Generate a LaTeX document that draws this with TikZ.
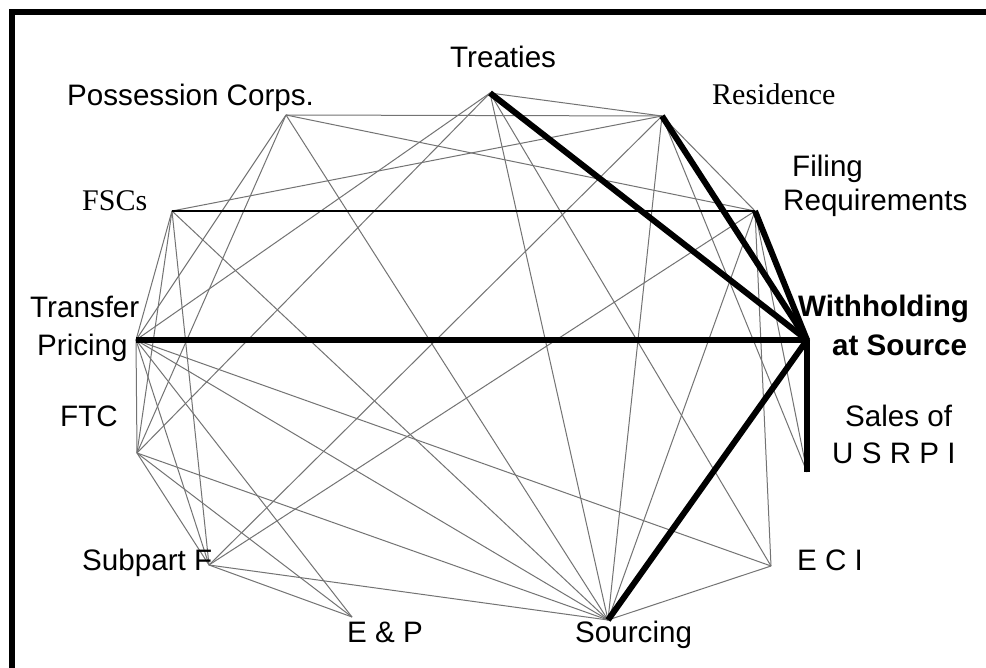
\documentclass[tikz,border=0pt]{standalone}
\usepackage{fontspec}
\setmainfont{Liberation Sans}
\newfontfamily\timesf{Liberation Serif}
\tikzset{
  grayedge/.style={draw=black!55, line width=1pt},
  blackedge/.style={draw=black, line width=1.6pt},
  boldedge/.style={draw=black, line width=6pt},
  lbl/.style={anchor=base west, inner sep=0pt, text=black, font=\fontsize{29.6}{34}\selectfont},
  lblserif/.style={lbl, font=\fontsize{30}{34}\selectfont\timesf},
  lblbold/.style={lbl, font=\fontsize{29.6}{34}\selectfont\bfseries},
}
\begin{document}
\begin{tikzpicture}[x=1pt,y=-1pt]
\useasboundingbox (0,0) rectangle (986,668);
\fill[white] (-8,-8) rectangle (996,678);
% frame (left and top edges only, as in the reference)
\draw[line width=6pt] (12,680) -- (12,12) -- (996,12);

% points
\coordinate (PC)  at (286,115);
\coordinate (T)   at (490,93);
\coordinate (R)   at (662,116);
\coordinate (Fi)  at (755,211);
\coordinate (W)   at (807,340);
\coordinate (S)   at (807,472);
\coordinate (E)   at (771,566);
\coordinate (So)  at (608,620);
\coordinate (EP)  at (352,617);
\coordinate (SF)  at (209,565);
\coordinate (FTC) at (137,453);
\coordinate (TP)  at (136,340);
\coordinate (FSC) at (172,211);

% thin grey connectors
\foreach \a/\b in {PC/R, PC/Fi, PC/So, PC/TP, PC/FTC,
                   T/R, T/TP, T/FTC, T/So, T/E,
                   R/FSC, R/Fi, R/SF, R/So, R/S,
                   Fi/SF, Fi/So, Fi/E, Fi/S,
                   FSC/So, FSC/SF, FSC/TP, FSC/FTC,
                   TP/FTC, TP/SF, TP/EP, TP/So, TP/E,
                   FTC/SF, FTC/EP, FTC/So,
                   SF/EP, SF/So, So/E}
  \draw[grayedge] (\a) -- (\b);

% black thin connector
\draw[blackedge] (FSC) -- (Fi);

% bold connectors
\foreach \a in {T, R, Fi, TP, So, S}
  \draw[boldedge] (\a) -- (W);
\fill (W) circle (3pt);

% labels
\node[lbl]      (lT)   at (450,68)  {Treaties};
\node[lbl]      (lPC)  at (67,106)  {Possession Corps.};
\node[lblserif] (lR)   at (712,105) {Residence};
\node[lbl]      (lFi1) at (792,177) {Filing};
\node[lbl]      (lFi2) at (783,211) {Requirements};
\node[lblserif] (lFSC) at (82,211)  {FSCs};
\node[lbl]      (lTP1) at (30,318)  {Transfer};
\node[lbl]      (lTP2) at (37,356)  {Pricing};
\node[lbl]      (lFTC) at (60,427)  {FTC};
\node[lbl]      (lSF)  at (82,570)  {Subpart F};
\node[lbl]      (lEP)  at (347,642) {E \& P};
\node[lbl]      (lSo)  at (575,642) {Sourcing};
\node[lbl]      (lE)   at (797,570) {E C I};
\node[lbl]      (lS1)  at (845,427) {Sales of};
\node[lbl]      (lS2)  at (832,463) {U S R P I};
\node[lblbold]  (lW1)  at (798,317) {Withholding};
\node[lblbold]  (lW2)  at (832,356) {at Source};
\end{tikzpicture}
\end{document}
